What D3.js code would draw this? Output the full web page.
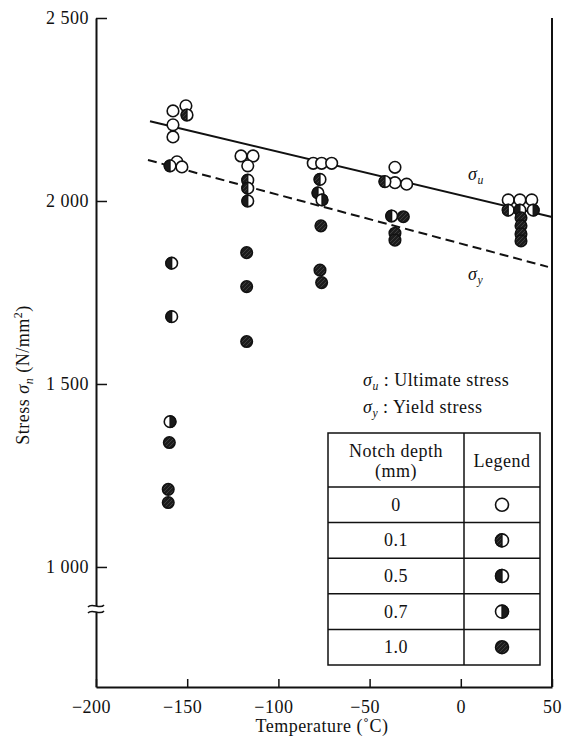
<!DOCTYPE html>
<html>
<head>
<meta charset="utf-8">
<script src="https://cdn.jsdelivr.net/npm/d3@7"></script>
<style>
  body { margin: 0; background: #fff; }
  svg text { font-family: "Liberation Serif", "Times New Roman", serif; fill: #111; letter-spacing: 0.5px; }
</style>
</head>
<body>
<div id="graph"></div>
<script>
// notch depths (mm) and their marker kinds
var notchDepths = ["0", "0.1", "0.5", "0.7", "1.0"];

// [temperature (C), stress (N/mm2)]
var notch0 = [
  [-157.8, 2246], [-150.7, 2260], [-157.8, 2208], [-157.8, 2175], [-155.6, 2107], [-152.9, 2093],
  [-120.5, 2123], [-113.9, 2123], [-116.8, 2096],
  [-80.9, 2103], [-76.3, 2103], [-70.8, 2103],
  [-36.1, 2092], [-36.1, 2050], [-29.7, 2046],
  [26.0, 2003], [32.4, 2003], [38.9, 2003]
];
var notch01 = [
  [-150.1, 2235], [-116.8, 2057], [-116.8, 2035], [-77.2, 2059], [-41.6, 2053], [26.0, 1975]
];
var notch05 = [
  [-159.4, 2096], [-158.5, 1830], [-158.5, 1684], [-116.8, 2000], [-78.3, 2022], [-37.9, 1959], [32.4, 1975]
];
var notch07 = [
  [-159.4, 1397], [-76.1, 2003], [39.7, 1975]
];
var notch10 = [
  [-159.8, 1340], [-160.4, 1212], [-160.4, 1176],
  [-117.4, 1859], [-117.4, 1766], [-117.4, 1616],
  [-76.7, 1932], [-77.2, 1811], [-76.3, 1777],
  [-31.5, 1957], [-36.1, 1912], [-36.1, 1893],
  [33.0, 1954], [33.0, 1932], [33.0, 1910], [33.0, 1891]
];

// fitted lines
var ultimateLine = [[-170.4, 2218], [50, 1956]];
var yieldLine = [[-171.5, 2112], [47.8, 1820]];

var xTicks = [-200, -150, -100, -50, 0, 50];
var yTicks = [1000, 1500, 2000, 2500];
var yTickLabels = ["1 000", "1 500", "2 000", "2 500"];

var svgWidth = 566;
var svgHeight = 736;

var $svg = d3.select("#graph")
    .append("svg")
    .attr("width", svgWidth)
    .attr("height", svgHeight);

var x = d3.scaleLinear().domain([-200, 50]).range([96, 552]);
var y = d3.scaleLinear().domain([672, 2500]).range([687, 18]);

var ink = "#111";
var dark = "#1a1a1a";

// texture for the fully dark marker
var defs = $svg.append("defs");
var pat = defs.append("pattern")
    .attr("id", "hatch")
    .attr("patternUnits", "userSpaceOnUse")
    .attr("width", 4).attr("height", 4);
pat.append("rect").attr("width", 4).attr("height", 4).attr("fill", "#1c1c1c");
pat.append("path").attr("d", "M0,4 L4,0").attr("stroke", "#555").attr("stroke-width", 0.6);

// axes
var $yAxis = $svg.append("g")
    .attr("transform", `translate(${x(-200)},0)`)
    .call(d3.axisLeft(y).tickValues(yTicks).tickSize(-11).tickSizeOuter(0).tickPadding(7)
        .tickFormat((d, i) => yTickLabels[i]));
$yAxis.select(".domain").attr("stroke", ink).attr("stroke-width", 2);
$yAxis.selectAll(".tick line").attr("stroke", ink).attr("stroke-width", 1.5);
$yAxis.selectAll("text").attr("font-size", 18).attr("fill", ink)
    .style("font-family", "'Liberation Serif', serif");

var $xAxis = $svg.append("g")
    .attr("transform", `translate(0,${y(672)})`)
    .call(d3.axisBottom(x).tickValues(xTicks).tickSize(-8).tickSizeOuter(0).tickPadding(13));
$xAxis.select(".domain").attr("stroke", ink).attr("stroke-width", 2);
$xAxis.selectAll(".tick line").attr("stroke", ink).attr("stroke-width", 1.5);
$xAxis.selectAll("text").attr("font-size", 18).attr("fill", ink)
    .style("font-family", "'Liberation Serif', serif")
    .attr("dx", d => d < 0 ? -5 : 0);

// right spine
$svg.append("line")
    .attr("x1", x(50)).attr("x2", x(50))
    .attr("y1", y(2500)).attr("y2", y(672))
    .attr("stroke", ink).attr("stroke-width", 2);

// axis break on the stress axis
var breakY = y(885);
$svg.append("rect")
    .attr("x", x(-200) - 3).attr("y", breakY - 3)
    .attr("width", 6).attr("height", 6)
    .attr("fill", "#fff");
[-3, 3].forEach(off => {
    var by = breakY + off;
    var bx = x(-200);
    $svg.append("path")
        .attr("d", `M ${bx-8},${by+1} C ${bx-4},${by-4} ${bx+4},${by+4} ${bx+8},${by-1}`)
        .attr("fill", "none").attr("stroke", ink).attr("stroke-width", 1.5);
});

// fitted lines
var line = d3.line().x(d => x(d[0])).y(d => y(d[1]));
$svg.append("path").attr("d", line(ultimateLine))
    .attr("fill", "none").attr("stroke", ink).attr("stroke-width", 2);
$svg.append("path").attr("d", line(yieldLine))
    .attr("fill", "none").attr("stroke", ink).attr("stroke-width", 2)
    .attr("stroke-dasharray", "9,5");

function drawMarker(g, cx, cy, r, kind) {
    if (kind == "1.0") {
        g.append("circle").attr("cx", cx).attr("cy", cy).attr("r", r)
            .attr("fill", "url(#hatch)").attr("stroke", ink).attr("stroke-width", 1.5);
        return;
    }
    g.append("circle").attr("cx", cx).attr("cy", cy).attr("r", r)
        .attr("fill", "#fff").attr("stroke", ink).attr("stroke-width", 1.6);
    if (kind == "0") return;
    var sweep = kind == "0.7" ? 1 : 0;
    g.append("path")
        .attr("d", `M ${cx},${cy-r} A ${r} ${r} 0 0 ${sweep} ${cx},${cy+r} Z`)
        .attr("fill", kind == "0.1" ? "url(#hatch)" : dark)
        .attr("stroke", ink).attr("stroke-width", 1.3);
}

var $marks = $svg.append("g");
var series = [[notch0, "0"], [notch01, "0.1"], [notch05, "0.5"], [notch07, "0.7"], [notch10, "1.0"]];
series.forEach(s => {
    s[0].forEach(d => drawMarker($marks, x(d[0]), y(d[1]), 5.8, s[1]));
});

// line labels
function sigma(g, px, py, sub, size) {
    var t = g.append("text").attr("x", px).attr("y", py).attr("font-size", size);
    t.append("tspan").text("σ").attr("font-style", "italic");
    t.append("tspan").text(sub).attr("font-style", "italic")
        .attr("font-size", size * 0.65).attr("dy", size * 0.2);
    return t;
}
sigma($svg, 468, 180, "u", 18);
sigma($svg, 468, 280, "y", 18);

// notes
var n1 = sigma($svg, 363, 386, "u", 18);
n1.append("tspan").text(" : Ultimate stress").attr("dy", -18 * 0.2);
var n2 = sigma($svg, 363, 413, "y", 18);
n2.append("tspan").text(" : Yield stress").attr("dy", -18 * 0.2);

// legend table
var tLeft = 328, tMid = 464, tRight = 540;
var tTop = 433, headBottom = 487, rowH = 35.6;
var $tab = $svg.append("g");
$tab.append("rect").attr("x", tLeft).attr("y", tTop)
    .attr("width", tRight - tLeft).attr("height", headBottom + rowH * notchDepths.length - tTop)
    .attr("fill", "#fff").attr("stroke", ink).attr("stroke-width", 1.5);
$tab.append("line").attr("x1", tMid).attr("x2", tMid)
    .attr("y1", tTop).attr("y2", headBottom + rowH * notchDepths.length)
    .attr("stroke", ink).attr("stroke-width", 1.5);
notchDepths.forEach((d, i) => {
    var top = headBottom + rowH * i;
    $tab.append("line").attr("x1", tLeft).attr("x2", tRight)
        .attr("y1", top).attr("y2", top)
        .attr("stroke", ink).attr("stroke-width", 1.5);
    $tab.append("text").attr("x", (tLeft + tMid) / 2).attr("y", top + rowH / 2 + 6)
        .attr("text-anchor", "middle").attr("font-size", 18).text(d);
    drawMarker($tab, 502, top + rowH / 2, 6.5, d);
});
$tab.append("text").attr("x", (tLeft + tMid) / 2).attr("y", 457)
    .attr("text-anchor", "middle").attr("font-size", 18).text("Notch depth");
$tab.append("text").attr("x", (tLeft + tMid) / 2).attr("y", 477)
    .attr("text-anchor", "middle").attr("font-size", 18).text("(mm)");
$tab.append("text").attr("x", (tMid + tRight) / 2).attr("y", 467)
    .attr("text-anchor", "middle").attr("font-size", 18).text("Legend");

// axis titles
$svg.append("text").attr("x", 322).attr("y", 732)
    .attr("text-anchor", "middle").attr("font-size", 18)
    .text("Temperature (˚C)");

var yt = $svg.append("text")
    .attr("transform", "translate(29,375) rotate(-90)")
    .attr("text-anchor", "middle").attr("font-size", 18);
yt.append("tspan").text("Stress ");
yt.append("tspan").text("σ").attr("font-style", "italic");
yt.append("tspan").text("n").attr("font-style", "italic").attr("font-size", 12).attr("dy", 4);
yt.append("tspan").text("  (N/mm").attr("dy", -4);
yt.append("tspan").text("2").attr("font-size", 12).attr("dy", -7);
yt.append("tspan").text(")").attr("dy", 7);
</script>
</body>
</html>
